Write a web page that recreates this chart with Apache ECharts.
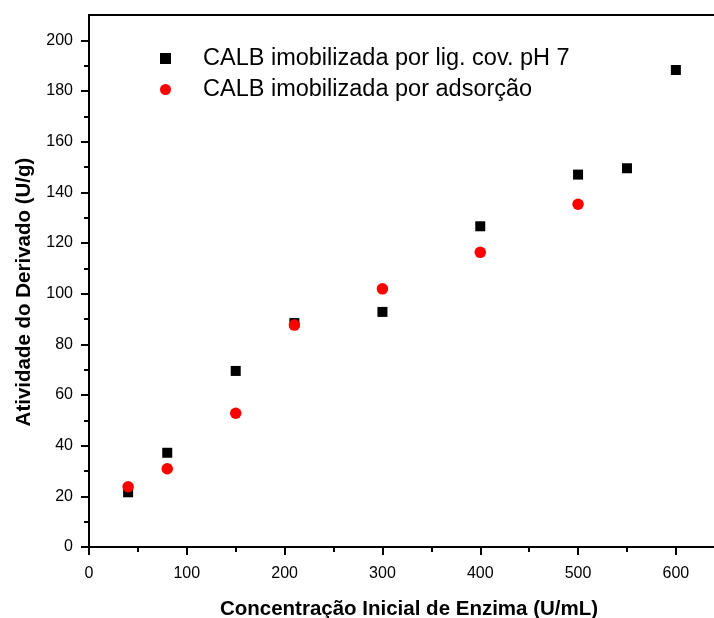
<!DOCTYPE html>
<html><head><meta charset="utf-8">
<script src="https://cdn.jsdelivr.net/npm/echarts@6/dist/echarts.min.js"></script>
<style>html,body{margin:0;padding:0;background:#fff}#c{width:714px;height:618px}</style>
</head><body><div id="c"></div>
<script>
const seriesNames = ['CALB imobilizada por lig. cov. pH 7', 'CALB imobilizada por adsorção'];
const covX = [40, 80, 150, 210, 300, 400, 500, 550, 600];
const covY = [21.6, 37.2, 69.5, 88.4, 92.8, 126.6, 147.0, 149.5, 188.3];
const adsX = [40, 80, 150, 210, 300, 400, 500];
const adsY = [23.8, 30.9, 52.8, 87.6, 101.9, 116.3, 135.3];
const xMajor = [0, 100, 200, 300, 400, 500, 600];
const xMinor = [50, 150, 250, 350, 450, 550];
const yMajor = [0, 20, 40, 60, 80, 100, 120, 140, 160, 180, 200];
const yMinor = [10, 30, 50, 70, 90, 110, 130, 150, 170, 190];

const FONT = 'Liberation Sans';
const chart = echarts.init(document.getElementById('c'), null, {renderer: 'canvas'});
const lineStyle = {color: '#000', width: 2};
function xAxisCfg(main) {
  return {
    type: 'value', min: 0, max: 640, position: 'bottom',
    axisLine: {show: main, onZero: false, lineStyle: lineStyle},
    axisTick: {show: true, inside: false, length: main ? 8 : 5, customValues: main ? xMajor : xMinor, lineStyle: lineStyle},
    axisLabel: {show: main, customValues: xMajor, color: '#000', fontFamily: FONT, fontSize: 16, margin: 19},
    splitLine: {show: false},
    name: main ? 'Concentração Inicial de Enzima (U/mL)' : '',
    nameLocation: 'middle', nameGap: 52,
    nameTextStyle: {color: '#000', fontFamily: FONT, fontSize: 20.5, fontWeight: 'bold', padding: [0, 0, 0, 14]}
  };
}
function yAxisCfg(main) {
  return {
    type: 'value', min: 0, max: 210, position: 'left',
    axisLine: {show: main, onZero: false, lineStyle: lineStyle},
    axisTick: {show: true, inside: false, length: main ? 8 : 5, customValues: main ? yMajor : yMinor, lineStyle: lineStyle},
    axisLabel: {show: main, customValues: yMajor, color: '#000', fontFamily: FONT, fontSize: 16, margin: 16},
    splitLine: {show: false},
    name: main ? 'Atividade do Derivado (U/g)' : '',
    nameLocation: 'middle', nameGap: 54,
    nameTextStyle: {color: '#000', fontFamily: FONT, fontSize: 20.5, fontWeight: 'bold', padding: [0, 22, 0, 0]}
  };
}
chart.setOption({
  animation: false,
  backgroundColor: '#fff',
  grid: {left: 89, right: -1, top: 15, bottom: 71, outerBoundsMode: 'none', containLabel: false,
         show: true, borderColor: '#000', borderWidth: 2, backgroundColor: 'transparent'},
  xAxis: [xAxisCfg(true), xAxisCfg(false)],
  yAxis: [yAxisCfg(true), yAxisCfg(false)],
  legend: {
    orient: 'vertical', left: 155, top: 41,
    itemWidth: 11, itemHeight: 11, itemGap: 6,
    textStyle: {color: '#000', fontFamily: FONT, fontSize: 23.5, lineHeight: 25, padding: [0, 0, 0, 27]},
    data: seriesNames
  },
  series: [
    {name: seriesNames[0], type: 'scatter', symbol: 'rect', symbolSize: 10,
     itemStyle: {color: '#000', opacity: 1}, data: covX.map((x, i) => [x, covY[i]])},
    {name: seriesNames[1], type: 'scatter', symbol: 'circle', symbolSize: 11.5,
     itemStyle: {color: '#ff0000', opacity: 1}, data: adsX.map((x, i) => [x, adsY[i]])}
  ]
});
</script>
</body></html>
